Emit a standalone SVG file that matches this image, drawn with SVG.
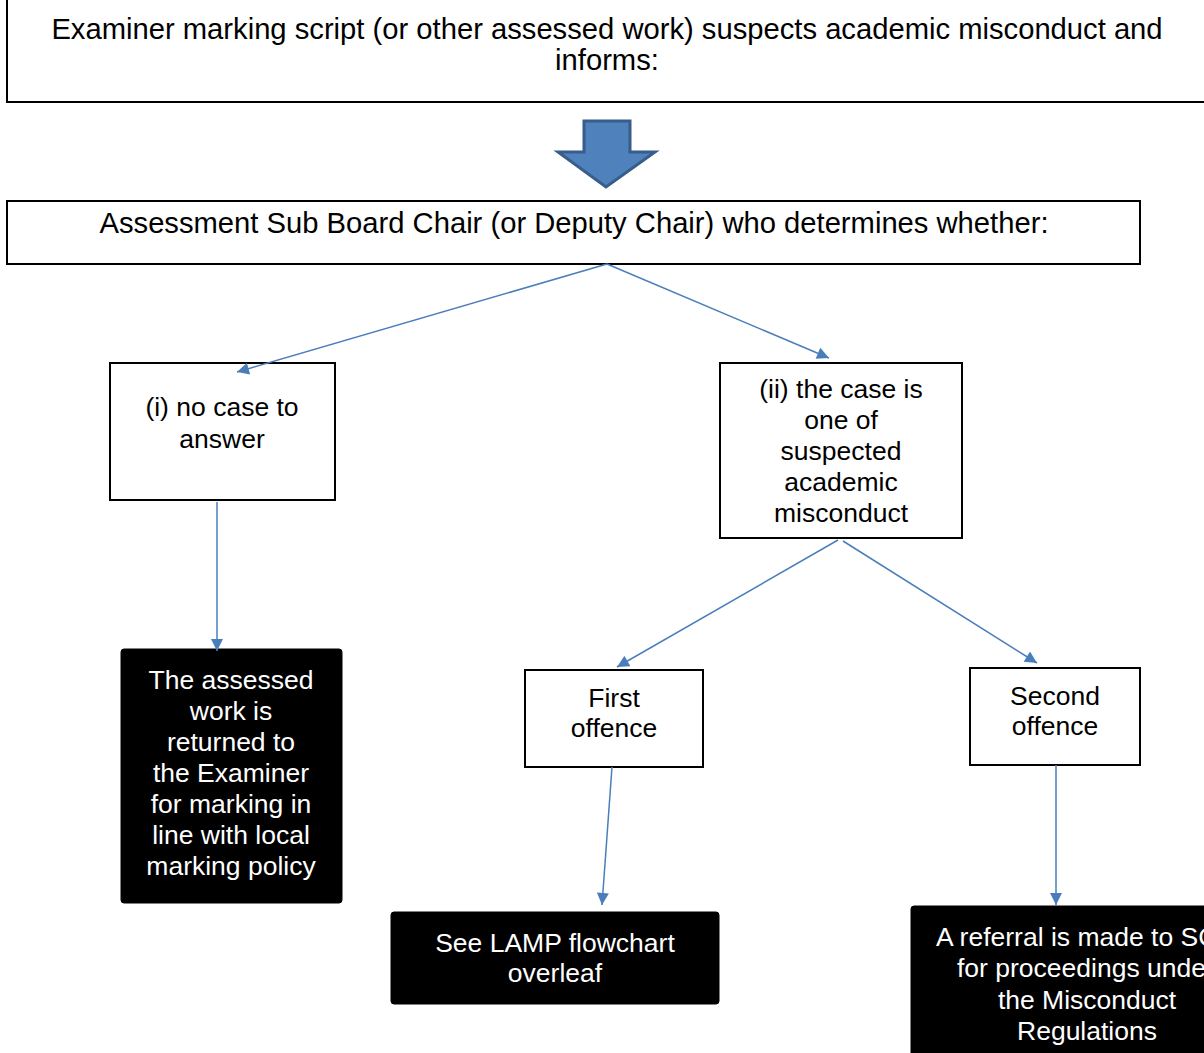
<svg xmlns="http://www.w3.org/2000/svg" width="1204" height="1053" viewBox="0 0 1204 1053">
<style>
.box{fill:#fff;stroke:#000;stroke-width:2}
.dark{fill:#000;stroke:#000}
.t{font-family:"Liberation Sans",Arial,sans-serif;font-size:26.5px;fill:#000;text-anchor:middle}
.big{font-size:29.2px}
.w{fill:#fff}
.c{stroke:#4A7EBB;stroke-width:1.5;fill:none;marker-end:url(#ah)}
</style>
<defs>
<marker id="ah" viewBox="0 0 10 10" refX="10" refY="5" markerWidth="14" markerHeight="12" markerUnits="userSpaceOnUse" orient="auto">
<path d="M0,0 L10,5 L0,10 z" fill="#4A7EBB"/>
</marker>
</defs>
<rect width="1204" height="1053" fill="#fff"/>
<g id="n-top">
<rect class="box" x="7" y="-2" width="1200" height="104"/>
<text class="t big" x="607" y="39">Examiner marking script (or other assessed work) suspects academic misconduct and</text>
<text class="t big" x="607" y="70">informs:</text>
</g>
<g id="n-blockarrow">
<path d="M584,121 L630,121 L630,152 L655,152 L606,187 L558,152 L584,152 Z" fill="#4F81BD" stroke="#385D8A" stroke-width="3" stroke-linejoin="miter"/>
</g>
<g id="n-chair">
<rect class="box" x="7" y="201" width="1133" height="63"/>
<text class="t big" x="574" y="233">Assessment Sub Board Chair (or Deputy Chair) who determines whether:</text>
</g>
<g id="n-nocase">
<rect class="box" x="110" y="363" width="225" height="137"/>
<text class="t" x="222" y="416">(i) no case to</text>
<text class="t" x="222" y="448">answer</text>
</g>
<g id="n-suspected">
<rect class="box" x="720" y="363" width="242" height="175"/>
<text class="t" x="841" y="398">(ii) the case is</text>
<text class="t" x="841" y="429">one of</text>
<text class="t" x="841" y="460">suspected</text>
<text class="t" x="841" y="491">academic</text>
<text class="t" x="841" y="522">misconduct</text>
</g>
<g id="n-returned">
<rect class="dark" x="121" y="649" width="221" height="254" rx="3"/>
<text class="t w" x="231" y="689">The assessed</text>
<text class="t w" x="231" y="720">work is</text>
<text class="t w" x="231" y="751">returned to</text>
<text class="t w" x="231" y="782">the Examiner</text>
<text class="t w" x="231" y="813">for marking in</text>
<text class="t w" x="231" y="844">line with local</text>
<text class="t w" x="231" y="875">marking policy</text>
</g>
<g id="n-first">
<rect class="box" x="525" y="670" width="178" height="97"/>
<text class="t" x="614" y="707">First</text>
<text class="t" x="614" y="737">offence</text>
</g>
<g id="n-second">
<rect class="box" x="970" y="668" width="170" height="97"/>
<text class="t" x="1055" y="705">Second</text>
<text class="t" x="1055" y="735">offence</text>
</g>
<g id="n-lamp">
<rect class="dark" x="391" y="912" width="328" height="92" rx="3"/>
<text class="t w" x="555" y="952">See LAMP flowchart</text>
<text class="t w" x="555" y="982">overleaf</text>
</g>
<g id="n-referral">
<rect class="dark" x="911" y="906" width="310" height="160" rx="3"/>
<text class="t w" x="936" y="946" style="text-anchor:start">A referral is made to SC</text>
<text class="t w" x="957" y="977" style="text-anchor:start">for proceedings unde</text>
<text class="t w" x="1087" y="1009">the Misconduct</text>
<text class="t w" x="1087" y="1040">Regulations</text>
</g>
<g id="connectors">
<line class="c" x1="607" y1="264" x2="237" y2="372"/>
<line class="c" x1="607" y1="264" x2="829" y2="358"/>
<line class="c" x1="217" y1="502" x2="217" y2="651"/>
<line class="c" x1="838" y1="540" x2="617" y2="667"/>
<line class="c" x1="843" y1="541" x2="1037" y2="663"/>
<line class="c" x1="612" y1="767" x2="602" y2="905"/>
<line class="c" x1="1056" y1="765" x2="1056" y2="905"/>
</g>
</svg>
